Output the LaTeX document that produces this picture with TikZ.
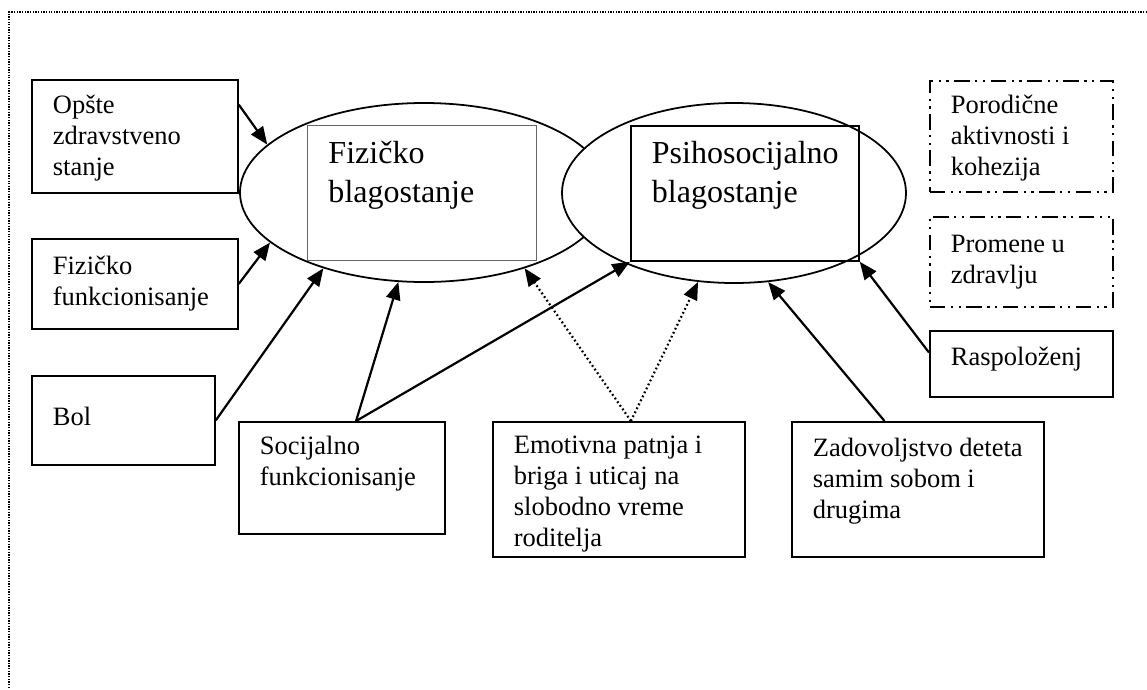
\documentclass[tikz,border=0pt]{standalone}
\usepackage{fontspec}
\setmainfont{Liberation Serif}
\usetikzlibrary{arrows.meta}
\usetikzlibrary{shapes.geometric}

\newdimen\px
\px=0.4528pt
\newcommand{\boxtext}[4][34]{\parbox[t][#3\px][t]{#2\px}{\raggedright\leftskip=21\px\rule{0pt}{#1\px}#4}}

\begin{document}
\begin{tikzpicture}[x=0.4528pt, y=-0.4528pt,
        box/.style = {draw, line width=0.8pt, anchor=north west, inner sep=0pt, font=\fontsize{12}{14}\selectfont},
        dashbox/.style = {box, dash pattern=on 7pt off 2.5pt on 1pt off 2.5pt on 1pt off 2.5pt},
        headbox/.style = {anchor=north west, inner sep=0pt, font=\fontsize{14.5}{17.5}\selectfont},
        ell/.style = {draw, ellipse, line width=0.8pt, fill=white, inner sep=0pt},
        arr/.style = {-{Triangle[length=8pt, width=6.5pt]}, line width=1pt},
        dotarr/.style = {arr, dash pattern=on 0.8pt off 1.2pt}]
            \useasboundingbox (0,0) rectangle (1147,689);
            \draw[line width=0.6pt, dash pattern=on 0.6pt off 0.6pt] (1147,12) -- (9,12) -- (9,689);

            \node[ell, minimum width=368*\px, minimum height=179*\px] (fizEll) at (424,192.5) {};
            \node[headbox, draw=black!60, line width=0.45pt] (fizBox) at (307,125) {\boxtext[38]{229}{135}{Fizičko\\blagostanje}};
            \node[ell, minimum width=344*\px, minimum height=180*\px] (psiEll) at (734,193) {};
            \node[headbox, draw, line width=0.8pt] (psiBox) at (630,125) {\boxtext[38]{228}{135}{Psihosocijalno\\blagostanje}};

            \node[box] (opste) at (31,79) {\boxtext{206}{113}{Opšte\\zdravstveno\\stanje}};
            \node[box] (fizfun) at (31,238) {\boxtext[36]{206}{90}{Fizičko\\funkcionisanje}};
            \node[box] (bol) at (31,375) {\boxtext[50]{183}{89}{Bol}};
            \node[box] (socfun) at (238,421) {\boxtext[33]{206}{112}{Socijalno\\funkcionisanje}};
            \node[box] (emot) at (492,421) {\boxtext[32]{252}{135}{Emotivna patnja i\\briga i uticaj na\\slobodno vreme\\roditelja}};
            \node[box] (zadov) at (791,421) {\boxtext[35]{252}{135}{Zadovoljstvo deteta\\samim sobom i\\drugima}};
            \node[dashbox] (porod) at (929,80) {\boxtext[33]{183}{111}{Porodične\\aktivnosti i\\kohezija}};
            \node[dashbox] (promene) at (929,216) {\boxtext[36]{183}{90}{Promene u\\zdravlju}};
            \node[box] (rasp) at (929,330) {\boxtext[35]{183}{66}{Raspoloženj}};

            \draw[arr] (opste.17.4) -- (fizEll.163.8);
            \draw[arr] (fizfun.east) -- (fizEll.198.5);
            \draw[arr] (bol.east) -- (fizEll.217.8);
            \draw[arr] (socfun.76.9) -- (fizEll.254.1);
            \draw[arr] (socfun.76.9) -- (psiBox.south west);
            \draw[dotarr] (emot.80.7) -- (fizEll.323.5);
            \draw[dotarr] (emot.80.7) -- (psiEll.248.2);
            \draw[arr] (zadov.116.7) -- (psiEll.291.4);
            \draw[arr] (rasp.173.8) -- (psiBox.south east);
        \end{tikzpicture}
\end{document}
